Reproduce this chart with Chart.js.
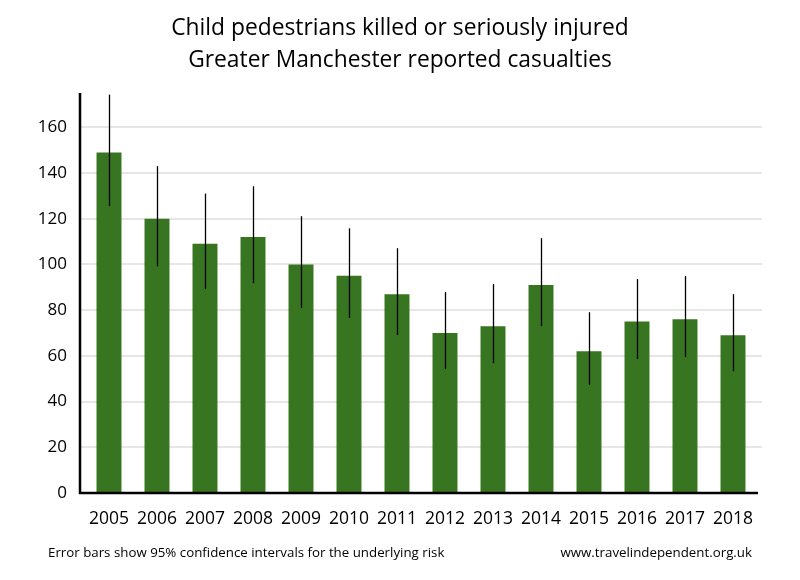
<!DOCTYPE html>
<html>
<head>
<meta charset="utf-8">
<script src="https://cdn.jsdelivr.net/npm/chart.js@4/dist/chart.umd.min.js"></script>
<style>
  html, body { margin: 0; padding: 0; background: #fff; }
  #wrap { width: 800px; height: 580px; position: relative; }
</style>
</head>
<body>
<div id="wrap"><canvas id="chart" width="800" height="580"></canvas></div>
<script>
/* Child pedestrian KSI, Greater Manchester — bars with 95% CI whiskers */
const YEARS = ["2005", "2006", "2007", "2008", "2009", "2010", "2011",
  "2012", "2013", "2014", "2015", "2016", "2017", "2018"];
const CASUALTIES = [149, 120, 109, 112, 100, 95, 87, 70, 73, 91, 62, 75, 76, 69];
const CI_LOW = [125.5, 99.2, 89.2, 91.8, 80.9, 76.6, 69.1, 54.2, 56.8, 73, 47.3, 58.6, 59.5, 53.3];
const CI_HIGH = [174.3, 143, 131, 134.2, 121.1, 115.8, 107.1, 87.9, 91.4, 111.5, 79.1, 93.6, 94.9, 87];
const TITLE = ["Child pedestrians killed or seriously injured", "Greater Manchester reported casualties"];
const NOTE_LEFT = "Error bars show 95% confidence intervals for the underlying risk";
const NOTE_RIGHT = "www.travelindependent.org.uk";

const FONT = "'Open Sans', 'Noto Sans', sans-serif";
const BAR = "#377521";

const decor = {
  id: "decor",
  beforeDatasetsDraw(chart) {
    const { ctx, chartArea: a, scales: { y } } = chart;
    ctx.save();
    ctx.strokeStyle = "#e6e6e6";
    ctx.lineWidth = 2;
    for (const t of y.ticks) {
      if (t.value === 0) continue;
      const py = Math.round(y.getPixelForValue(t.value));
      ctx.beginPath(); ctx.moveTo(a.left - 5, py); ctx.lineTo(a.right + 5, py); ctx.stroke();
    }
    ctx.restore();
  },
  afterDatasetsDraw(chart) {
    const { ctx, chartArea: a, scales: { x, y } } = chart;
    ctx.save();
    // whiskers
    ctx.strokeStyle = "#000";
    ctx.lineWidth = 1.3;
    CASUALTIES.forEach((_, i) => {
      const px = Math.round(x.getPixelForValue(i)) + 0.5;
      ctx.beginPath();
      ctx.moveTo(px, y.getPixelForValue(CI_LOW[i]));
      ctx.lineTo(px, y.getPixelForValue(CI_HIGH[i]));
      ctx.stroke();
    });
    // axes
    ctx.lineWidth = 2.5;
    ctx.beginPath();
    ctx.moveTo(a.left - 5, a.top);
    ctx.lineTo(a.left - 5, a.bottom);
    ctx.lineTo(a.right + 1, a.bottom);
    ctx.stroke();
    // titles & notes
    ctx.fillStyle = "#000";
    ctx.textAlign = "center";
    ctx.textBaseline = "middle";
    ctx.font = "22.8px " + FONT;
    ctx.fillText(TITLE[0], 400, 29);
    ctx.fillText(TITLE[1], 400, 61);
    ctx.font = "13.3px " + FONT;
    ctx.textAlign = "left";
    ctx.fillText(NOTE_LEFT, 48, 553);
    ctx.textAlign = "right";
    ctx.fillText(NOTE_RIGHT, 752, 553);
    ctx.restore();
  },
};

new Chart(document.getElementById("chart"), {
  type: "bar",
  data: {
    labels: YEARS,
    datasets: [{
      data: CASUALTIES, backgroundColor: BAR, borderWidth: 0,
      categoryPercentage: 1, barPercentage: 0.52,
    }],
  },
  options: {
    responsive: false, animation: false,
    layout: { padding: { top: 93, right: 43, left: 0, bottom: 0 } },
    plugins: { legend: { display: false }, tooltip: { enabled: false } },
    scales: {
      x: {
        grid: { display: false, drawTicks: false },
        border: { display: false },
        ticks: { color: "#000", font: { family: FONT, size: 17.5 }, padding: 16, maxRotation: 0 },
        afterFit: (s) => { s.height = 87; },
      },
      y: {
        min: 0, max: 175,
        grid: { display: false, drawTicks: false },
        border: { display: false },
        ticks: { stepSize: 20, color: "#000", font: { family: FONT, size: 17 }, padding: 18 },
        afterBuildTicks: (s) => { s.ticks = s.ticks.filter((t) => t.value % 20 === 0); },
        afterFit: (s) => { s.width = 85; },
      },
    },
  },
  plugins: [decor],
});
</script>
</body>
</html>
